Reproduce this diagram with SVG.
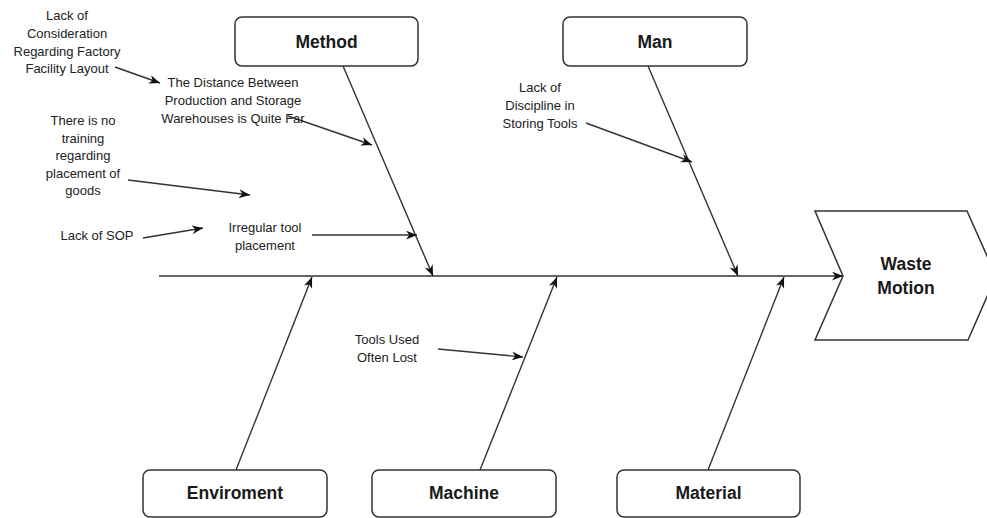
<svg xmlns="http://www.w3.org/2000/svg" width="987" height="518" viewBox="0 0 987 518">
<style>
.box{fill:#fff;stroke:#333;stroke-width:1.5}
.ln{fill:none;stroke:#333;stroke-width:1.4}
.lbl{font-family:"Liberation Sans",Arial,sans-serif;font-size:17.5px;font-weight:bold;fill:#1a1a1a;text-anchor:middle}
.sm{font-family:"Liberation Sans",Arial,sans-serif;font-size:13px;fill:#222;text-anchor:middle}
</style>
<defs>
<marker id="ah" viewBox="0 0 10 8" markerWidth="11" markerHeight="9" refX="10" refY="4" orient="auto" markerUnits="userSpaceOnUse">
<path d="M0,0 L10,4 L0,8 L3,4 z" fill="#111"/>
</marker>
</defs>
<rect width="987" height="518" fill="#fff"/>
<g id="connectors">
<line class="ln" x1="159" y1="276" x2="843" y2="276" marker-end="url(#ah)"/>
<line class="ln" x1="343" y1="66" x2="433" y2="276" marker-end="url(#ah)"/>
<line class="ln" x1="648" y1="66" x2="738" y2="276" marker-end="url(#ah)"/>
<line class="ln" x1="236" y1="470" x2="312" y2="277" marker-end="url(#ah)"/>
<line class="ln" x1="480" y1="470" x2="557" y2="277" marker-end="url(#ah)"/>
<line class="ln" x1="708" y1="470" x2="784" y2="277" marker-end="url(#ah)"/>
<line class="ln" x1="288" y1="116" x2="372" y2="145" marker-end="url(#ah)"/>
<line class="ln" x1="312" y1="235" x2="417" y2="235" marker-end="url(#ah)"/>
<line class="ln" x1="128" y1="180" x2="250" y2="195" marker-end="url(#ah)"/>
<line class="ln" x1="143" y1="238" x2="203" y2="228" marker-end="url(#ah)"/>
<line class="ln" x1="115" y1="67" x2="160" y2="83" marker-end="url(#ah)"/>
<line class="ln" x1="586" y1="123" x2="692" y2="162" marker-end="url(#ah)"/>
<line class="ln" x1="438" y1="349" x2="523" y2="357" marker-end="url(#ah)"/>
</g>
<g id="method">
<rect class="box" x="235" y="17" width="183" height="49" rx="7"/>
<text class="lbl" x="326.5" y="48">Method</text>
</g>
<g id="man">
<rect class="box" x="563" y="17" width="184" height="49" rx="7"/>
<text class="lbl" x="655" y="48">Man</text>
</g>
<g id="enviroment">
<rect class="box" x="143" y="470" width="184" height="47" rx="7"/>
<text class="lbl" x="235" y="499">Enviroment</text>
</g>
<g id="machine">
<rect class="box" x="372" y="470" width="184" height="47" rx="7"/>
<text class="lbl" x="464" y="499">Machine</text>
</g>
<g id="material">
<rect class="box" x="617" y="470" width="183" height="47" rx="7"/>
<text class="lbl" x="708.5" y="499">Material</text>
</g>
<g id="waste-motion">
<path class="box" d="M815,211 L967,211 L996,276 L968,340 L815,340 L843,276 Z"/>
<text class="lbl" x="906" y="270">Waste</text>
<text class="lbl" x="906" y="294">Motion</text>
</g>
<g id="cause-layout">
<text class="sm" x="67" y="20">Lack of</text>
<text class="sm" x="67" y="38">Consideration</text>
<text class="sm" x="67" y="56">Regarding Factory</text>
<text class="sm" x="67" y="73">Facility Layout</text>
</g>
<g id="cause-distance">
<text class="sm" x="233" y="87">The Distance Between</text>
<text class="sm" x="233" y="105">Production and Storage</text>
<text class="sm" x="233" y="123">Warehouses is Quite Far</text>
</g>
<g id="cause-training">
<text class="sm" x="83" y="125">There is no</text>
<text class="sm" x="83" y="143">training</text>
<text class="sm" x="83" y="160">regarding</text>
<text class="sm" x="83" y="178">placement of</text>
<text class="sm" x="83" y="195">goods</text>
</g>
<g id="cause-sop">
<text class="sm" x="97" y="240">Lack of SOP</text>
</g>
<g id="cause-irregular">
<text class="sm" x="265" y="232">Irregular tool</text>
<text class="sm" x="265" y="250">placement</text>
</g>
<g id="cause-discipline">
<text class="sm" x="540" y="92">Lack of</text>
<text class="sm" x="540" y="110">Discipline in</text>
<text class="sm" x="540" y="128">Storing Tools</text>
</g>
<g id="cause-lost">
<text class="sm" x="387" y="344">Tools Used</text>
<text class="sm" x="387" y="362">Often Lost</text>
</g>
</svg>
